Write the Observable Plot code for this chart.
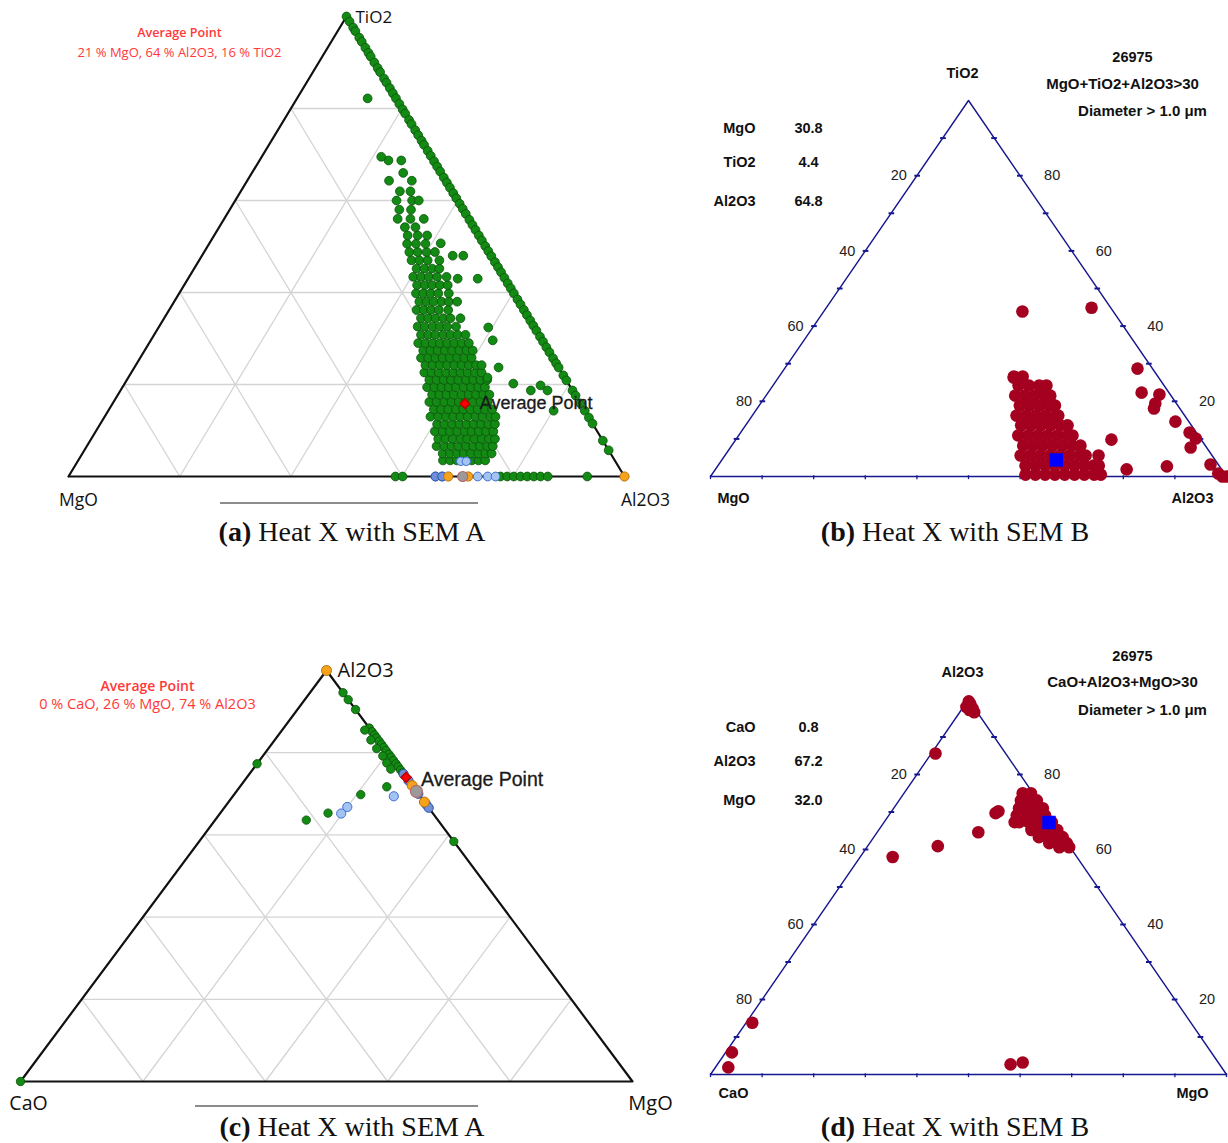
<!DOCTYPE html>
<html><head><meta charset="utf-8">
<script src="https://cdn.jsdelivr.net/npm/d3@7"></script>
<script src="https://cdn.jsdelivr.net/npm/@observablehq/plot@0.6"></script>
<style>
html,body{margin:0;padding:0;background:#fff;overflow:hidden}
#fig{position:relative;width:1228px;height:1143px;background:#fff}
.cap{position:absolute;font-family:"Liberation Serif","Times New Roman",serif;font-size:28px;color:#111;transform:translate(-50%,-50%);white-space:nowrap}
.uline{position:absolute;height:2px;background:#8c8c8c}
</style></head><body><div id="fig"></div>
<script>
// ---------------- shared ticks / grid ----------------
const gridLevels = [20, 40, 60, 80];
const tickLevels = [10, 20, 30, 40, 50, 60, 70, 80, 90];
const tickLabelValues = [20, 40, 60, 80];

// ---------------- Panel (a): MgO (left) - Al2O3 (right) - TiO2 (top), SEM A ----------------
// points on the TiO2–Al2O3 edge (MgO = 0): TiO2 %
const aEdgeTiO2 = [100, 98.9, 97.6, 96.8, 95.4, 94.5, 93.2, 92.1, 91.3, 90.0, 88.8, 87.9, 86.5, 85.6, 84.4, 83.3, 82.2, 81.0, 79.8, 78.9, 77.5, 76.6, 75.3, 74.2, 73.0, 72.1, 70.8, 69.7, 68.5, 67.4, 66.3, 65.0, 63.9, 62.8, 61.6, 60.5, 59.3, 58.2, 57.1, 55.8, 54.7, 53.6, 52.4, 51.3, 50.1, 49.0, 47.9, 46.6, 45.5, 44.4, 43.2, 42.0, 40.9, 39.8, 38.5, 37.4, 36.2, 35.1, 33.9, 32.8, 31.7, 30.4, 29.3, 28.1, 27.0, 25.7, 24.6, 23.7, 22.0, 20.9, 18.7, 17.6, 15.9, 14.3, 12.8, 11.5, 7.8, 5.7];
// main cluster: [TiO2 %, [Al2O3 % ...]]
const aClusterRows = [
  [3.5, [65.6, 66.9, 68.1, 69.4, 70.8, 72.0, 73.2]],
  [5.0, [64.8, 66.1, 67.4, 68.6, 69.9, 71.2, 72.5, 73.6]],
  [6.6, [62.9, 64.3, 65.6, 66.8, 68.2, 69.5, 70.7, 72.0, 73.0]],
  [8.2, [62.4, 63.7, 65.0, 66.4, 67.6, 68.9, 70.2, 71.5, 72.6]],
  [9.8, [61.0, 62.4, 63.7, 65.0, 66.4, 67.6, 68.9, 70.2, 71.5]],
  [11.4, [60.6, 61.9, 63.3, 64.6, 65.9, 67.2, 68.5, 69.8, 71.0]],
  [13.0, [58.6, 60.0, 61.4, 62.7, 64.0, 65.3, 66.7, 68.0, 69.4, 70.3]],
  [14.6, [58.4, 59.7, 61.0, 62.4, 63.7, 65.0, 66.3, 67.6, 68.9]],
  [16.2, [56.8, 58.1, 59.5, 60.8, 62.1, 63.3, 64.6, 66.0, 67.3]],
  [17.8, [56.5, 57.8, 59.1, 60.4, 61.8, 63.1, 64.4, 65.7, 66.8]],
  [19.4, [54.8, 56.1, 57.4, 58.7, 60.0, 61.4, 62.7, 64.0, 65.2]],
  [21.0, [54.4, 55.7, 57.0, 58.3, 59.6, 61.0, 62.3, 63.6, 64.8]],
  [22.6, [52.7, 54.0, 55.3, 56.6, 57.9, 59.2, 60.5, 61.8, 63.0]],
  [24.2, [52.1, 53.4, 54.7, 56.0, 57.3, 58.6, 59.9, 61.2, 62.2]],
  [25.8, [50.5, 51.8, 53.1, 54.4, 55.7, 57.0, 58.3, 59.6]],
  [27.4, [50.1, 51.4, 52.7, 54.0, 55.3, 56.6, 57.9, 59.0]],
  [29.0, [48.4, 49.7, 51.0, 52.3, 53.6, 54.9, 56.2, 57.5]],
  [30.8, [48.0, 49.3, 50.6, 52.0, 53.3, 54.6, 56.0]],
  [32.6, [46.5, 47.8, 49.2, 50.5, 51.8, 53.4]],
  [34.4, [46.2, 47.5, 48.8, 50.2, 51.5, 53.3]],
  [36.2, [44.5, 45.8, 47.1, 48.5, 50.2]],
  [38.0, [44.1, 45.4, 46.7, 48.1, 49.4, 50.9]],
  [39.8, [42.6, 43.9, 45.2, 46.6, 48.5]],
  [41.6, [41.9, 43.3, 44.6, 46.0, 47.4]],
  [43.4, [40.3, 41.7, 43.1, 44.6, 46.3]],
  [45.2, [40.0, 41.4, 42.8, 44.1]],
  [47.0, [38.2, 39.6, 41.1, 43.2]],
  [48.8, [36.9, 38.4, 40.0, 41.5]],
  [50.6, [35.6, 37.2, 38.9]],
  [52.4, [34.8, 36.6, 38.3]],
  [54.2, [33.4, 35.3]],
  [56.0, [31.2, 33.5, 35.9]],
  [58.0, [30.5, 32.6]],
  [60.0, [29.0, 31.8, 33.0]],
  [62.0, [28.6, 30.5]],
  [64.3, [25.5, 29.6]],
  [66.0, [27.2]],
  [68.7, [23.2, 25.5]],
  [69.5, [21.5]]
];
// scattered points: [TiO2 %, Al2O3 %]
const aOutliers = [[50.7, 41.6], [48.0, 45.1], [48.0, 47.0], [43.0, 48.5], [43.0, 52.1], [32.4, 59.3], [29.6, 61.5], [23.7, 65.5], [21.5, 64.6], [20.2, 69.9], [18.7, 73.8], [19.8, 75.0], [18.7, 76.8], [14.3, 80.1], [82.2, 12.7]];
// points on the MgO–Al2O3 edge (TiO2 = 0): Al2O3 %
const aBaseGreen = [58.8, 60.1, 77.7, 78.9, 80.1, 81.3, 82.5, 83.7, 84.9, 86.2, 93.3];
const aBaseBlue = [66.0, 67.2, 73.6, 75.4, 76.8];
const aBaseOrange = [68.3, 71.9, 100];
const aBaseGray = [70.9];
const aLightBlue = [[3.3, 68.9], [3.3, 69.9]];  // [TiO2, Al2O3]
const aAverage = {MgO: 21, Al2O3: 64, TiO2: 16};

// ---------------- Panel (b): MgO (left) - Al2O3 (right) - TiO2 (top), SEM B ----------------
const bClusterRows = [  // [TiO2 %, [Al2O3 % ...]]
  [26.6, [45.5, 47.2]],
  [24.2, [47.6, 49.6, 51.6, 53.0]],
  [21.5, [48.3, 50.2, 52.1, 54.0, 55.1]],
  [18.9, [50.5, 52.4, 54.3, 56.2, 57.3]],
  [16.2, [51.2, 53.1, 55.0, 56.9, 58.8, 59.3]],
  [13.6, [53.4, 55.3, 57.2, 59.1, 61.0, 62.4]],
  [10.9, [54.2, 56.1, 58.0, 59.9, 61.8, 63.7, 64.7]],
  [8.2, [56.5, 58.4, 60.3, 62.2, 64.1, 66.0, 67.6]],
  [5.6, [57.3, 59.2, 61.1, 63.0, 64.9, 66.8, 68.7, 69.9]],
  [2.9, [59.6, 61.5, 63.4, 65.3, 67.2, 69.1, 71.0, 72.8, 73.8]],
  [0.5, [60.8, 62.7, 64.6, 66.5, 68.4, 70.3, 72.2, 74.1, 75.4]]
];
const bOutliers = [[43.9, 38.5], [44.9, 51.4], [28.7, 68.4], [22.3, 72.4], [21.8, 76.1], [19.4, 76.5], [18.1, 76.9], [14.6, 82.8], [11.7, 87.0], [10.1, 89.0], [7.7, 89.2], [2.7, 87.1], [1.9, 79.7], [9.8, 72.8], [5.6, 72.4], [3.2, 95.3], [0.8, 98.0], [0, 99.2], [0, 100], [23.7, 52.5], [19.7, 56.0], [26.3, 45.6]];
const bAverage = {MgO: 30.8, TiO2: 4.4, Al2O3: 64.8};

// ---------------- Panel (c): CaO (left) - MgO (right) - Al2O3 (top), SEM A ----------------
const cEdgeGreen = [94.6, 92.9, 90.5, 86.0, 85.1, 84.3, 83.6, 82.8, 82.0, 81.3, 80.5, 79.6, 78.9, 78.1, 77.3, 76.6, 75.8, 75.1, 58.4]; // Al2O3 % with CaO = 0
const cNearEdgeGreen = [[85.5, 13.5], [83.1, 15.7], [81.0, 17.7], [79.2, 19.6], [77.5, 21.1], [76.0, 22.5]]; // [Al2O3, MgO]
const cInnerGreen = [[71.7, 24.0], [69.8, 20.7], [65.3, 17.6], [63.6, 14.9], [77.3, 0], [0, 0]]; // [Al2O3, MgO]
const cInnerBlue = [[69.4, 26.3], [66.8, 20.0], [65.2, 19.8]];
const cEdgeBlue = [74.8, 73.2, 70.0, 67.4, 66.6];
const cEdgeOrange = [100, 72.0, 68.0];
const cEdgeGray = [70.6];
const cAverage = {CaO: 0, MgO: 26, Al2O3: 74};

// ---------------- Panel (d): CaO (left) - MgO (right) - Al2O3 (top), SEM B ----------------
const dScatter = [[99.5, 0.3], [98.6, 1.1], [97.6, 2.0], [96.6, 2.8], [99.0, 0.7], [97.2, 1.6], [98.0, 0.6],
  [85.6, 0.8], [69.7, 20.4], [70.2, 20.7], [67.3, 25.3], [64.6, 19.6], [60.9, 13.6], [58.0, 6.3],
  [13.8, 1.2], [5.9, 1.2], [1.9, 2.5], [2.7, 56.8], [3.2, 58.9]]; // [Al2O3, MgO]
const dClusterRows = [ // [Al2O3 %, [MgO % ...]]
  [75.0, [23.0, 24.6]],
  [73.1, [23.6, 25.2, 26.7]],
  [71.0, [24.3, 26.0, 27.6, 28.9]],
  [69.1, [24.8, 26.7, 28.5, 30.3]],
  [67.3, [26.2, 28.0, 29.8, 31.5, 32.5]],
  [65.2, [29.6, 31.4, 33.2, 34.6]],
  [63.3, [32.0, 33.8, 35.4, 36.6]],
  [61.7, [34.8, 36.6, 38.2]],
  [60.6, [37.3, 39.2]]
];
const dAverage = {CaO: 0.8, Al2O3: 67.2, MgO: 32.0};

// ---------------- helpers ----------------
const proj = (right, top) => ({X: right + top / 2, Y: top});
const gridSegs = [];
for (const k of gridLevels) {
  gridSegs.push([proj(0, k), proj(100 - k, k)]);
  gridSegs.push([proj(k, 0), proj(k, 100 - k)]);
  gridSegs.push([proj(100 - k, 0), proj(0, 100 - k)]);
}
const grid = gridSegs.map(([p, q]) => ({x1: p.X, y1: p.Y, x2: q.X, y2: q.Y}));
const outline = [proj(0, 0), proj(100, 0), proj(0, 100), proj(0, 0)];
const norm = (r, t, l) => { const s = r + t + l; return proj(100 * r / s, 100 * t / s); };

const fontA = "'Open Sans','DejaVu Sans',sans-serif";
const fontB = "'Liberation Sans',Arial,sans-serif";
const note = (txt, dx, dy, o) => Plot.text([txt], {frameAnchor: "top-left", dx, dy, text: d => d, textAnchor: "middle", lineAnchor: "middle", ...o});
const fig = document.getElementById("fig");
function mount(svg, left, top) { svg.style.position = "absolute"; svg.style.left = left + "px"; svg.style.top = top + "px"; fig.appendChild(svg); }

const GREEN = {fill: "#138a13", stroke: "#0a520a", strokeWidth: 0.8};
const LBLUE = {fill: "#a3c4f3", stroke: "#3f6fd0", strokeWidth: 1};
const DBLUE = {fill: "#6f90d8", stroke: "#2c50b0", strokeWidth: 1};
const ORANGE = {fill: "#f7a21b", stroke: "#b8740c", strokeWidth: 1};
const GRAY = {fill: "#9a9a9a", stroke: "#b86a6a", strokeWidth: 1.2};
const RED = "#a4001f";
const NAVY = "#16168f";

// ---------------- Panel (a) ----------------
{
  const green = [];
  aEdgeTiO2.forEach(t => green.push(proj(100 - t, t)));
  aClusterRows.forEach(([t, as]) => as.forEach(a => green.push(proj(a, t))));
  aOutliers.forEach(([t, a]) => green.push(proj(a, t)));
  aBaseGreen.forEach(a => green.push(proj(a, 0)));
  const avg = norm(aAverage.Al2O3, aAverage.TiO2, aAverage.MgO);
  const svg = Plot.plot({
    width: 700, height: 515, margin: 0,
    x: {domain: [0, 100], range: [68, 624], axis: null},
    y: {domain: [0, 100], range: [476, 16], axis: null},
    style: {background: "transparent", overflow: "visible"},
    marks: [
      Plot.link(grid, {x1: "x1", y1: "y1", x2: "x2", y2: "y2", stroke: "#d4d4d4", strokeWidth: 1.3}),
      Plot.line(outline, {x: "X", y: "Y", stroke: "#111", strokeWidth: 2.2}),
      Plot.dot(green, {x: "X", y: "Y", r: 4.4, ...GREEN}),
      Plot.dot(aLightBlue.map(([t, a]) => proj(a, t)), {x: "X", y: "Y", r: 4.2, ...LBLUE}),
      Plot.dot(aBaseBlue.map(a => proj(a, 0)), {x: "X", y: "Y", r: 4.4, ...LBLUE}),
      Plot.dot(aBaseBlue.slice(0, 2).map(a => proj(a, 0)), {x: "X", y: "Y", r: 4.4, ...DBLUE}),
      Plot.dot(aBaseOrange.map(a => proj(a, 0)), {x: "X", y: "Y", r: 4.6, ...ORANGE}),
      Plot.dot(aBaseGray.map(a => proj(a, 0)), {x: "X", y: "Y", r: 5, ...GRAY}),
      Plot.dot([avg], {x: "X", y: "Y", r: 4.3, symbol: "diamond2", fill: "#ff0000", stroke: "#c00000"}),
      Plot.text([avg], {x: "X", y: "Y", text: () => "Average Point", dx: 15, textAnchor: "start", fontFamily: fontB, fontSize: 18, fill: "#1a1a1a", stroke: "#1a1a1a", strokeWidth: 0.3}),
      Plot.text([proj(0, 100)], {x: "X", y: "Y", text: () => "TiO2", dx: 9, dy: 1, textAnchor: "start", fontFamily: fontA, fontSize: 17, fill: "#111"}),
      Plot.text([proj(0, 0)], {x: "X", y: "Y", text: () => "MgO", dx: 10, dy: 24, textAnchor: "middle", fontFamily: fontA, fontSize: 17.5, fill: "#111"}),
      Plot.text([proj(100, 0)], {x: "X", y: "Y", text: () => "Al2O3", dx: 21, dy: 24, textAnchor: "middle", fontFamily: fontA, fontSize: 17.5, fill: "#111"}),
      note("Average Point", 179, 32, {fontFamily: fontA, fontSize: 12.6, fontWeight: 600, fill: "#ff3838"}),
      note(`${aAverage.MgO} % MgO, ${aAverage.Al2O3} % Al2O3, ${aAverage.TiO2} % TiO2`, 179, 52, {fontFamily: fontA, fontSize: 13, fill: "#ff3838"})
    ]
  });
  mount(svg, 0, 0);
}

// ---------------- Panels (b) and (d) ----------------
function ternB(cfg) {
  const bold = {fontFamily: fontB, fontWeight: "bold", fontSize: 14.5, fill: "#111", letterSpacing: "0.4px"};
  const marks = [
    Plot.line(outline, {x: "X", y: "Y", stroke: NAVY, strokeWidth: 1.4}),
    Plot.link(tickLevels.map(k => proj(0, k)), {x1: d => d.X - 0.5, x2: d => d.X + 0.6, y1: "Y", y2: "Y", stroke: NAVY, strokeWidth: 2}),
    Plot.link(tickLevels.map(k => proj(100 - k, k)), {x1: d => d.X - 0.6, x2: d => d.X + 0.5, y1: "Y", y2: "Y", stroke: NAVY, strokeWidth: 2}),
    Plot.link([0, ...tickLevels, 100].map(k => proj(k, 0)), {x1: "X", x2: "X", y1: 0.35, y2: -0.7, stroke: NAVY, strokeWidth: 1.3}),
    Plot.text(tickLabelValues, {x: v => proj(0, 100 - v).X, y: v => proj(0, 100 - v).Y, text: v => String(v), dx: -10, textAnchor: "end", fontFamily: fontB, fontSize: 14.5, fill: "#222"}),
    Plot.text(tickLabelValues, {x: v => proj(100 - v, v).X, y: v => proj(100 - v, v).Y, text: v => String(v), dx: 24, textAnchor: "start", fontFamily: fontB, fontSize: 14.5, fill: "#222"}),
    Plot.dot(cfg.pts, {x: "X", y: "Y", r: 6.3, fill: RED}),
    Plot.dot([cfg.avg], {x: "X", y: "Y", r: 7.6, symbol: "square", fill: "#0000ff"}),
    Plot.text([proj(0, 100)], {x: "X", y: "Y", text: () => cfg.labels[0], dx: -6, dy: -27, ...bold}),
    Plot.text([proj(0, 0)], {x: "X", y: "Y", text: () => cfg.labels[1], dx: 23, dy: cfg.labDy, ...bold}),
    Plot.text([proj(100, 0)], {x: "X", y: "Y", text: () => cfg.labels[2], dx: -34, dy: cfg.labDy, ...bold}),
    note("26975", 432, cfg.noteY[0], bold),
    note(cfg.cond, 422, cfg.noteY[1], {...bold, fontSize: 15, letterSpacing: "0.6px"}),
    note("Diameter > 1.0 μm", 442, cfg.noteY[2], {...bold, fontSize: 15, letterSpacing: "0.6px"}),
    ...cfg.table.map(([name, val], i) => note(name, 55, cfg.tableY[i], {...bold, textAnchor: "end"})),
    ...cfg.table.map(([name, val], i) => note(val.toFixed(1), 108, cfg.tableY[i], bold))
  ];
  return Plot.plot({
    width: 528, height: 515, margin: 0,
    x: {domain: [0, 100], range: [10, 526], axis: null},
    y: {domain: [0, 100], range: cfg.yRange, axis: null},
    style: {background: "transparent", overflow: "visible"},
    marks
  });
}
{
  const pts = [];
  bClusterRows.forEach(([t, as]) => as.forEach(a => pts.push(proj(a, t))));
  bOutliers.forEach(([t, a]) => pts.push(proj(a, t)));
  const svg = ternB({
    pts, avg: norm(bAverage.Al2O3, bAverage.TiO2, bAverage.MgO), yRange: [476, 100],
    labels: ["TiO2", "MgO", "Al2O3"], labDy: 22,
    cond: "MgO+TiO2+Al2O3>30", noteY: [57, 84, 111],
    table: [["MgO", bAverage.MgO], ["TiO2", bAverage.TiO2], ["Al2O3", bAverage.Al2O3]], tableY: [128, 162, 201]
  });
  mount(svg, 700, 0);
}

// ---------------- Panel (c) ----------------
{
  const green = [];
  cEdgeGreen.forEach(a => green.push(proj(100 - a, a)));
  cNearEdgeGreen.forEach(([a, m]) => green.push(proj(m, a)));
  cInnerGreen.forEach(([a, m]) => green.push(proj(m, a)));
  const avg = norm(cAverage.MgO, cAverage.Al2O3, cAverage.CaO);
  const svg = Plot.plot({
    width: 700, height: 515, margin: 0,
    x: {domain: [0, 100], range: [20, 632], axis: null},
    y: {domain: [0, 100], range: [481, 70], axis: null},
    style: {background: "transparent", overflow: "visible"},
    marks: [
      Plot.link(grid, {x1: "x1", y1: "y1", x2: "x2", y2: "y2", stroke: "#d4d4d4", strokeWidth: 1.3}),
      Plot.line(outline, {x: "X", y: "Y", stroke: "#111", strokeWidth: 2.2}),
      Plot.dot(green, {x: "X", y: "Y", r: 4.2, ...GREEN}),
      Plot.dot(cInnerBlue.map(([a, m]) => proj(m, a)), {x: "X", y: "Y", r: 4.6, ...LBLUE}),
      Plot.dot(cEdgeBlue.map(a => proj(100 - a, a)), {x: "X", y: "Y", r: 4.6, ...DBLUE}),
      Plot.dot(cEdgeOrange.map(a => proj(100 - a, a)), {x: "X", y: "Y", r: 5, ...ORANGE}),
      Plot.dot(cEdgeGray.map(a => proj(100 - a, a)), {x: "X", y: "Y", r: 6, ...GRAY}),
      Plot.dot([avg], {x: "X", y: "Y", r: 4.5, symbol: "diamond2", fill: "#ff0000", stroke: "#c00000"}),
      Plot.text([avg], {x: "X", y: "Y", text: () => "Average Point", dx: 15, dy: 2, textAnchor: "start", fontFamily: fontB, fontSize: 19.5, fill: "#1a1a1a", stroke: "#1a1a1a", strokeWidth: 0.3}),
      Plot.text([proj(0, 100)], {x: "X", y: "Y", text: () => "Al2O3", dx: 11, dy: 0, textAnchor: "start", fontFamily: fontA, fontSize: 20, fill: "#111"}),
      Plot.text([proj(0, 0)], {x: "X", y: "Y", text: () => "CaO", dx: 8, dy: 22, textAnchor: "middle", fontFamily: fontA, fontSize: 19.5, fill: "#111"}),
      Plot.text([proj(100, 0)], {x: "X", y: "Y", text: () => "MgO", dx: 18, dy: 22, textAnchor: "middle", fontFamily: fontA, fontSize: 20, fill: "#111"}),
      note("Average Point", 147, 86, {fontFamily: fontA, fontSize: 14, fontWeight: 600, fill: "#ff3838"}),
      note(`${cAverage.CaO} % CaO, ${cAverage.MgO} % MgO, ${cAverage.Al2O3} % Al2O3`, 147, 104, {fontFamily: fontA, fontSize: 14.5, fill: "#ff3838"})
    ]
  });
  mount(svg, 0, 600);
}

{
  const pts = [];
  dScatter.forEach(([a, m]) => pts.push(proj(m, a)));
  dClusterRows.forEach(([a, ms]) => ms.forEach(m => pts.push(proj(m, a))));
  const svg = ternB({
    pts, avg: norm(dAverage.MgO, dAverage.Al2O3, dAverage.CaO), yRange: [474, 99],
    labels: ["Al2O3", "CaO", "MgO"], labDy: 19,
    cond: "CaO+Al2O3+MgO>30", noteY: [56, 82, 110],
    table: [["CaO", dAverage.CaO], ["Al2O3", dAverage.Al2O3], ["MgO", dAverage.MgO]], tableY: [127, 161, 200]
  });
  mount(svg, 700, 600);
}

// ---------------- captions ----------------
const captions = [["(a)", "Heat X with SEM A", 352, 532], ["(b)", "Heat X with SEM B", 955, 532], ["(c)", "Heat X with SEM A", 352, 1127], ["(d)", "Heat X with SEM B", 955, 1127]];
captions.forEach(([tag, txt, x, y]) => {
  const d = document.createElement("div");
  d.className = "cap"; d.style.left = x + "px"; d.style.top = y + "px";
  d.innerHTML = `<b>${tag}</b> ${txt}`;
  fig.appendChild(d);
});
[[220, 502, 258], [195, 1105, 283]].forEach(([x, y, w]) => {
  const d = document.createElement("div");
  d.className = "uline"; d.style.left = x + "px"; d.style.top = y + "px"; d.style.width = w + "px";
  fig.appendChild(d);
});
</script></body></html>
